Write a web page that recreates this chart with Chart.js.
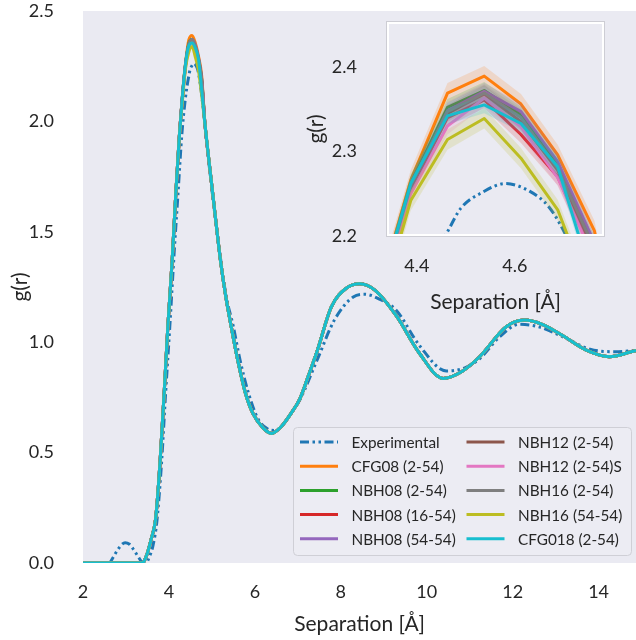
<!DOCTYPE html>
<html>
<head>
<meta charset="utf-8">
<title>g(r)</title>
<script src="https://cdn.jsdelivr.net/npm/chart.js@4"></script>
<style>
  html, body { margin: 0; padding: 0; background: #fff; }
  #wrap { position: relative; width: 636px; height: 640px; }
  #mainChart { position: absolute; left: 0; top: 0; }
  #insetChart { position: absolute; left: 290px; top: 0; }
</style>
</head>
<body>
<div id="wrap">
  <canvas id="mainChart" width="636" height="640"></canvas>
  <canvas id="insetChart" width="346" height="330"></canvas>
</div>
<script>
// ---- data -------------------------------------------------------------

// experimental g(r)
const expSep = [2.0, 2.60, 2.70, 2.80, 2.90, 2.98, 3.08, 3.18, 3.28, 3.37, 3.46, 3.55, 3.63, 3.72,
  3.83, 3.92, 4.02, 4.12, 4.21, 4.30, 4.38, 4.43, 4.4625, 4.49, 4.535, 4.58, 4.63, 4.67, 4.705,
  4.75, 4.82, 4.92, 5.05, 5.20, 5.33, 5.50, 5.654, 5.85, 6.08, 6.30, 6.47, 6.65, 6.85, 7.05,
  7.45, 7.85, 8.29, 8.56, 8.90, 9.29, 9.83, 10.455, 10.90, 11.23, 11.70, 12.15, 12.60, 13.16,
  13.80, 14.40, 14.85, 15.0];
const expG = [0, 0, 0.025, 0.058, 0.083, 0.092, 0.085, 0.060, 0.030, 0.005, 0, 0.030, 0.080, 0.190,
  0.460, 0.760, 1.070, 1.400, 1.670, 1.940, 2.100, 2.170, 2.205, 2.233, 2.252, 2.262, 2.253, 2.234, 2.200,
  2.140, 2.020, 1.830, 1.610, 1.380, 1.210, 1.070, 0.920, 0.770, 0.650, 0.607, 0.600, 0.625, 0.680, 0.740,
  0.920, 1.100, 1.205, 1.217, 1.195, 1.145, 0.985, 0.870, 0.885, 0.925, 1.025, 1.081, 1.070, 1.025,
  0.968, 0.957, 0.962, 0.963];

// simulated g(r), common part away from the first peak
const simSep = [2.0, 3.30, 3.40, 3.49, 3.59, 3.69, 3.765, 3.796, 3.889, 3.974, 4.075, 4.16, 4.2375,
  4.8375, 4.95, 5.05, 5.20, 5.32, 5.45, 5.60, 5.78, 5.96, 6.19, 6.39, 6.60, 6.85, 7.05, 7.25, 7.45,
  7.78, 8.13, 8.44, 8.80, 9.29, 9.83, 10.38, 10.80, 11.23, 11.85, 12.27, 12.70, 13.16, 13.70,
  14.25, 14.85, 15.0];
const simG = [0, 0, 0.003, 0.040, 0.110, 0.200, 0.376, 0.466, 0.769, 1.070, 1.370, 1.674, 1.920,
  1.990, 1.790, 1.620, 1.370, 1.210, 1.070, 0.920, 0.770, 0.675, 0.612, 0.587, 0.615, 0.680, 0.745, 0.850, 0.960,
  1.160, 1.245, 1.265, 1.235, 1.120, 0.950, 0.836, 0.865, 0.934, 1.070, 1.100, 1.080, 1.030, 0.965,
  0.934, 0.961, 0.965];

// first peak, one value per histogram bin
const peakSep = [4.3125, 4.3875, 4.4625, 4.5375, 4.6125, 4.6875, 4.7625];
const cfg08Peak     = [2.115, 2.266, 2.369, 2.389, 2.356, 2.296, 2.206];
const nbh08Peak     = [2.110, 2.262, 2.352, 2.372, 2.343, 2.284, 2.190];
const nbh08_16Peak  = [2.105, 2.256, 2.340, 2.361, 2.320, 2.270, 2.175];
const nbh08_54Peak  = [2.108, 2.258, 2.348, 2.371, 2.347, 2.288, 2.192];
const nbh12Peak     = [2.108, 2.258, 2.345, 2.368, 2.335, 2.278, 2.180];
const nbh12sPeak    = [2.100, 2.250, 2.330, 2.363, 2.329, 2.269, 2.172];
const nbh16Peak     = [2.110, 2.260, 2.347, 2.369, 2.340, 2.280, 2.185];
const nbh16_54Peak  = [2.090, 2.242, 2.314, 2.339, 2.292, 2.231, 2.118];
const cfg018Peak    = [2.111, 2.262, 2.342, 2.355, 2.333, 2.282, 2.140];

// spread between runs (half width of the shaded band)
const peakSpread = [0.012, 0.010, 0.010, 0.010, 0.010, 0.010, 0.010, 0.012, 0.010];

const expLabel = 'Experimental';
const simLabels = ['CFG08 (2-54)', 'NBH08 (2-54)', 'NBH08 (16-54)', 'NBH08 (54-54)',
  'NBH12 (2-54)', 'NBH12 (2-54)S', 'NBH16 (2-54)', 'NBH16 (54-54)', 'CFG018 (2-54)'];
const simPeaks = [cfg08Peak, nbh08Peak, nbh08_16Peak, nbh08_54Peak, nbh12Peak,
  nbh12sPeak, nbh16Peak, nbh16_54Peak, cfg018Peak];

const mainXTicks = [2, 4, 6, 8, 10, 12, 14];
const mainYTicks = [0, 0.5, 1.0, 1.5, 2.0, 2.5];
const insetXTicks = [4.4, 4.6];
const insetYTicks = [2.2, 2.3, 2.4];

// ---- style ------------------------------------------------------------

const expColor = '#1f77b4';
const simColors = ['#ff7f0e', '#2ca02c', '#d62728', '#9467bd', '#8c564b',
  '#e377c2', '#7f7f7f', '#bcbd22', '#17becf'];
const expDash = [9, 3.5, 2.5, 3.5, 2.5, 3.5];
const INK = '#262626';
const PANEL = '#eaeaf2';
const FONT = 'Lato';

function hexAlpha(hex, a) {
  const n = parseInt(hex.slice(1), 16);
  return `rgba(${n >> 16}, ${(n >> 8) & 255}, ${n & 255}, ${a})`;
}

function expPoints() {
  return expSep.map((r, i) => ({x: r, y: expG[i]}));
}

function simPoints(peak, shift = 0) {
  const pts = simSep.map((r, i) => ({x: r, y: simG[i] + shift}));
  peakSep.forEach((r, i) => pts.push({x: r, y: peak[i] + shift}));
  return pts.sort((a, b) => a.x - b.x);
}

// ---- plugins ----------------------------------------------------------

const panelBg = {
  id: 'panelBg',
  beforeDraw(chart) {
    const {ctx, chartArea: a} = chart;
    ctx.save();
    ctx.fillStyle = PANEL;
    ctx.fillRect(a.left, a.top, a.right - a.left, a.bottom - a.top);
    ctx.restore();
  }
};

const insetFrame = {
  id: 'insetFrame',
  afterDraw(chart) {
    const {ctx, chartArea: a} = chart;
    ctx.save();
    ctx.strokeStyle = '#ffffff';
    ctx.lineWidth = 2;
    ctx.strokeRect(a.left + 1, a.top + 1, a.right - a.left - 2, a.bottom - a.top - 2);
    ctx.strokeStyle = '#cdcdd4';
    ctx.lineWidth = 1;
    ctx.strokeRect(a.left - 0.5, a.top - 0.5, a.right - a.left + 1, a.bottom - a.top + 1);
    ctx.restore();
  }
};

// two column legend in the lower right corner
const boxLegend = {
  id: 'boxLegend',
  afterDraw(chart) {
    const ctx = chart.ctx;
    const sets = chart.data.datasets;
    ctx.save();
    ctx.beginPath();
    ctx.roundRect(293.5, 427.5, 338, 128, 4);
    ctx.fillStyle = 'rgba(236,236,243,0.85)';
    ctx.fill();
    ctx.strokeStyle = '#cfcfd6';
    ctx.lineWidth = 1;
    ctx.stroke();
    ctx.font = `15.3px ${FONT}`;
    ctx.textBaseline = 'middle';
    sets.forEach((ds, i) => {
      const col = Math.floor(i / 5), row = i % 5;
      const hx = col ? 466.5 : 300;
      const y = 442 + row * 24.2;
      ctx.beginPath();
      ctx.setLineDash(ds.borderDash || []);
      ctx.strokeStyle = ds.borderColor;
      ctx.lineWidth = 3;
      ctx.lineCap = 'butt';
      ctx.moveTo(hx, y);
      ctx.lineTo(hx + 38, y);
      ctx.stroke();
      ctx.setLineDash([]);
      ctx.fillStyle = INK;
      ctx.fillText(ds.label, hx + 51.5, y + 1);
    });
    ctx.restore();
  }
};

// ---- axes helpers -----------------------------------------------------

function axis(opts) {
  return {
    type: 'linear',
    min: opts.min,
    max: opts.max,
    grid: {display: false},
    border: {display: false},
    afterBuildTicks: s => { s.ticks = opts.ticks.map(v => ({value: v})); },
    afterFit: s => {
      if (opts.width) s.width = opts.width;
      if (opts.height) s.height = opts.height;
      // labels may hang over the plot edges, keep the plot box where it is
      s.paddingTop = s.paddingBottom = s.paddingLeft = s.paddingRight = 0;
    },
    ticks: {
      padding: opts.tickPad,
      color: INK,
      font: {family: FONT, size: 18},
      callback: opts.fmt
    },
    title: {
      display: true,
      text: opts.title,
      color: INK,
      font: {family: FONT, size: 21},
      padding: opts.titlePad
    }
  };
}

Chart.defaults.animation = false;

// ---- main panel -------------------------------------------------------

const lineBase = {pointRadius: 0, borderWidth: 3, fill: false, clip: 0,
  cubicInterpolationMode: 'monotone', borderJoinStyle: 'round'};

const mainSets = [
  Object.assign({}, lineBase, {
    label: expLabel, data: expPoints(), borderColor: expColor,
    borderDash: expDash, borderCapStyle: 'butt', order: 100
  })
].concat(simLabels.map((lab, i) => Object.assign({}, lineBase, {
  label: lab, data: simPoints(simPeaks[i]), borderColor: simColors[i], order: 9 - i
})));

new Chart(document.getElementById('mainChart'), {
  type: 'line',
  data: {datasets: mainSets},
  options: {
    responsive: false,
    layout: {padding: {left: 0, top: 11, right: 0, bottom: 0}},
    plugins: {legend: {display: false}, tooltip: {enabled: false}},
    scales: {
      x: axis({min: 2, max: 14.87, ticks: mainXTicks, height: 77, tickPad: 10,
        fmt: v => String(v), title: 'Separation [Å]', titlePad: {top: 0, bottom: 3.5}}),
      y: axis({min: 0, max: 2.5, ticks: mainYTicks, width: 83, tickPad: 21,
        fmt: v => v.toFixed(1), title: 'g(r)', titlePad: {top: 7.5, bottom: 0}})
    }
  },
  plugins: [panelBg, boxLegend]
});

// ---- inset around the first peak --------------------------------------

const insetSets = [
  Object.assign({}, lineBase, {
    label: expLabel, data: expPoints(), borderColor: expColor,
    borderDash: expDash, borderCapStyle: 'butt', order: 100
  })
];
simLabels.forEach((lab, i) => {
  const k = 90 - i * 3;
  insetSets.push(Object.assign({}, lineBase, {
    label: lab, data: simPoints(simPeaks[i]), borderColor: simColors[i],
    cubicInterpolationMode: 'default', tension: 0, order: k
  }));
  // band: upper edge filled down to the lower edge that follows it
  insetSets.push({
    label: lab + ' +', data: simPoints(simPeaks[i], peakSpread[i]),
    borderColor: 'rgba(0,0,0,0)', borderWidth: 0, pointRadius: 0, tension: 0, clip: 0,
    backgroundColor: hexAlpha(simColors[i], 0.18), fill: '+1', order: k - 1
  });
  insetSets.push({
    label: lab + ' -', data: simPoints(simPeaks[i], -peakSpread[i]),
    borderColor: 'rgba(0,0,0,0)', borderWidth: 0, pointRadius: 0, tension: 0, clip: 0,
    fill: false, order: k - 2
  });
});

new Chart(document.getElementById('insetChart'), {
  type: 'line',
  data: {datasets: insetSets},
  options: {
    responsive: false,
    layout: {padding: {left: 0, top: 22, right: 32, bottom: 0}},
    plugins: {legend: {display: false}, tooltip: {enabled: false}},
    scales: {
      x: axis({min: 4.339, max: 4.782, ticks: insetXTicks, height: 94, tickPad: 11,
        fmt: v => v.toFixed(1), title: 'Separation [Å]', titlePad: {top: 0, bottom: 15.5}}),
      y: axis({min: 2.2, max: 2.453, ticks: insetYTicks, width: 97, tickPad: 22,
        fmt: v => v.toFixed(1), title: 'g(r)', titlePad: {top: 13.5, bottom: 0}})
    }
  },
  plugins: [panelBg, insetFrame]
});
</script>
</body>
</html>
